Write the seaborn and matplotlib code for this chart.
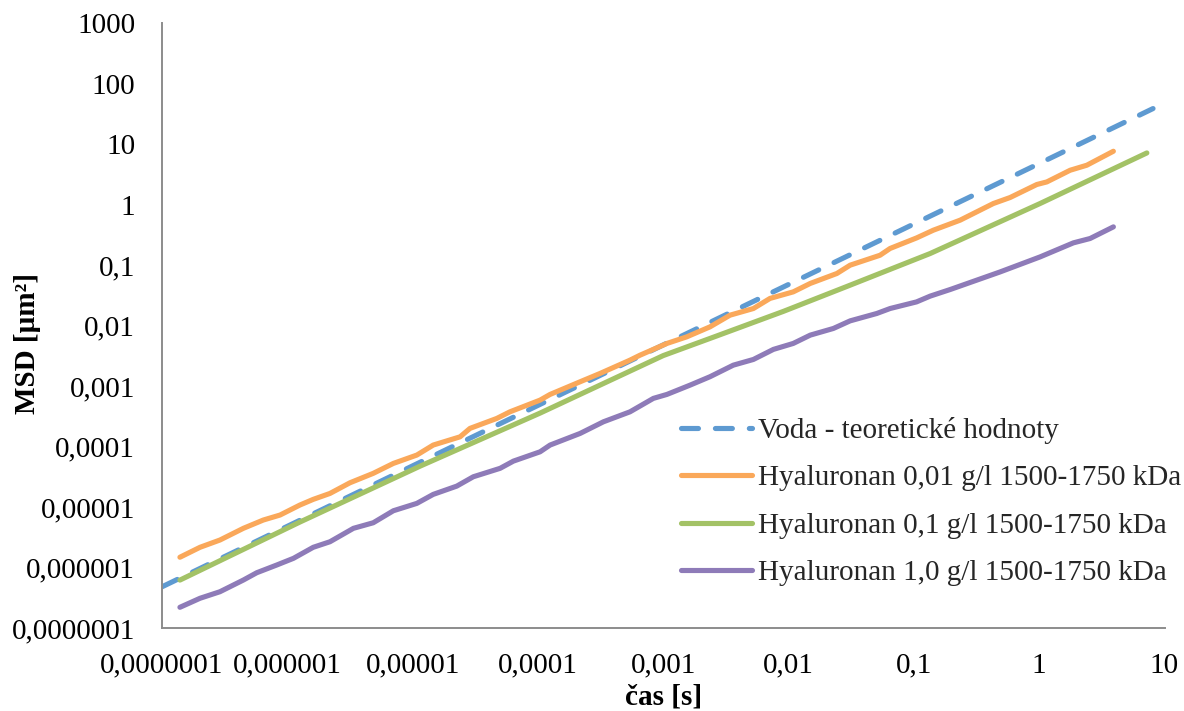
import matplotlib
matplotlib.use("Agg")
import matplotlib.pyplot as plt
import seaborn as sns
import pandas as pd
from matplotlib.ticker import FixedLocator, FixedFormatter, NullLocator

# ---------------- data ----------------
water_t = [1e-7, 1e-6, 1e-5, 1e-4, 1e-3, 1e-2, 1e-1, 1.0, 8.1]
water_msd = [4.8e-7, 4.8e-6, 4.8e-5, 4.8e-4, 4.8e-3, 4.8e-2, 0.48, 4.8, 38.9]

h001_t = [1.39e-7, 2.01e-7, 2.90e-7, 4.46e-7, 6.43e-7, 8.75e-7, 1.26e-6, 1.61e-6, 2.19e-6,
          3.16e-6, 4.85e-6, 7.02e-6, 1.08e-5, 1.46e-5, 2.39e-5, 2.87e-5, 4.69e-5, 5.98e-5,
          1.04e-4, 1.25e-4, 2.17e-4, 3.13e-4, 5.43e-4, 6.53e-4, 1.07e-3, 1.54e-3, 2.36e-3,
          3.41e-3, 5.24e-3, 7.11e-3, 1.09e-2, 1.49e-2, 2.43e-2, 3.10e-2, 5.37e-2, 6.46e-2,
          0.105, 0.143, 0.234, 0.431, 0.586, 0.957, 1.151, 1.766, 2.399, 3.908]
h001_msd = [1.48e-6, 2.16e-6, 2.85e-6, 4.45e-6, 6.10e-6, 7.38e-6, 1.08e-5, 1.34e-5, 1.68e-5,
            2.52e-5, 3.61e-5, 5.27e-5, 7.24e-5, 1.06e-4, 1.45e-4, 2.00e-4, 2.92e-4, 3.76e-4,
            5.87e-4, 7.29e-4, 1.18e-3, 1.62e-3, 2.69e-3, 3.25e-3, 5.08e-3, 6.53e-3, 9.55e-3,
            1.49e-2, 1.92e-2, 2.82e-2, 3.62e-2, 4.99e-2, 7.29e-2, 0.100, 0.146, 0.189,
            0.282, 0.379, 0.555, 1.047, 1.315, 2.158, 2.382, 3.715, 4.498, 7.656]

h01_t = [1.39e-7, 1.26e-6, 1.15e-5, 1.04e-4, 1.0e-3, 2.67e-3, 9.08e-3, 3.10e-2, 0.135, 1.02, 7.23]
h01_msd = [6.2e-7, 5.65e-6, 4.76e-5, 3.58e-4, 3.20e-3, 6.75e-3, 1.72e-2, 4.67e-2, 0.156, 1.05, 7.18]

h10_t = [1.39e-7, 2.01e-7, 2.90e-7, 4.46e-7, 5.70e-7, 8.23e-7, 1.12e-6, 1.61e-6, 2.19e-6,
         3.37e-6, 4.85e-6, 7.02e-6, 1.08e-5, 1.46e-5, 2.25e-5, 3.05e-5, 4.99e-5, 6.37e-5,
         1.04e-4, 1.25e-4, 2.17e-4, 3.33e-4, 5.43e-4, 8.34e-4, 1.07e-3, 1.64e-3, 2.36e-3,
         3.62e-3, 5.24e-3, 7.57e-3, 1.09e-2, 1.49e-2, 2.28e-2, 3.10e-2, 5.06e-2, 6.46e-2,
         0.105, 0.135, 0.195, 0.488, 1.016, 1.875, 2.547, 3.91]
h10_msd = [2.20e-7, 3.10e-7, 3.98e-7, 6.21e-7, 8.20e-7, 1.10e-6, 1.42e-6, 2.16e-6, 2.67e-6,
           4.45e-6, 5.50e-6, 8.69e-6, 1.15e-5, 1.62e-5, 2.22e-5, 3.17e-5, 4.37e-5, 5.75e-5,
           8.20e-5, 1.06e-4, 1.65e-4, 2.57e-4, 3.76e-4, 6.27e-4, 7.29e-4, 1.04e-3, 1.43e-3,
           2.22e-3, 2.76e-3, 4.05e-3, 5.08e-3, 6.97e-3, 8.99e-3, 1.20e-2, 1.59e-2, 1.92e-2,
           2.47e-2, 3.08e-2, 3.96e-2, 7.74e-2, 0.137, 0.234, 0.276, 0.430]

series_labels = ["Voda - teoretické hodnoty",
                 "Hyaluronan 0,01 g/l 1500-1750 kDa",
                 "Hyaluronan 0,1 g/l 1500-1750 kDa",
                 "Hyaluronan 1,0 g/l 1500-1750 kDa"]

x_ticks = [1e-7, 1e-6, 1e-5, 1e-4, 1e-3, 1e-2, 1e-1, 1, 10]
x_tick_labels = ["0,0000001", "0,000001", "0,00001", "0,0001", "0,001", "0,01", "0,1", "1", "10"]
y_ticks = [1e-7, 1e-6, 1e-5, 1e-4, 1e-3, 1e-2, 1e-1, 1, 10, 100, 1000]
y_tick_labels = ["0,0000001", "0,000001", "0,00001", "0,0001", "0,001", "0,01", "0,1",
                 "1", "10", "100", "1000"]

x_title = "čas [s]"
y_title = "MSD [µm²]"

# ---------------- style ----------------
sns.set_theme(style="white")
plt.rcParams["font.family"] = ["Liberation Serif", "DejaVu Serif"]
FS = 21
colors = ["#5E9AD1", "#FAA85A", "#A3C266", "#8E7BB8"]
LW = 3.7
axis_grey = "#8C8C8C"

W, H = 1184, 711
fig = plt.figure(figsize=(W / 100, H / 100), dpi=100)
x0, x1 = 162, 1164.5
y_top, y_bot = 23.3, 628
ax = fig.add_axes([x0 / W, 1 - y_bot / H, (x1 - x0) / W, (y_bot - y_top) / H])
ax.set_xscale("log")
ax.set_yscale("log")

frames = [
    pd.DataFrame({"t": water_t, "msd": water_msd}),
    pd.DataFrame({"t": h001_t, "msd": h001_msd}),
    pd.DataFrame({"t": h01_t, "msd": h01_msd}),
    pd.DataFrame({"t": h10_t, "msd": h10_msd}),
]
for i, (df, lab, col) in enumerate(zip(frames, series_labels, colors)):
    sns.lineplot(data=df, x="t", y="msd", ax=ax, color=col, linewidth=LW,
                 label=lab, sort=False, estimator=None, legend=False)
    line = ax.lines[-1]
    line.set_solid_capstyle("round")
    line.set_solid_joinstyle("round")
    if i == 0:
        line.set_linestyle((0, (3.3, 3.3)))
        line.set_dash_capstyle("round")

ax.set_xlim(1e-7, 10)
ax.set_ylim(1e-7, 1000)

ax.xaxis.set_major_locator(FixedLocator(x_ticks))
ax.xaxis.set_major_formatter(FixedFormatter(x_tick_labels))
ax.xaxis.set_minor_locator(NullLocator())
ax.yaxis.set_major_locator(FixedLocator(y_ticks))
ax.yaxis.set_major_formatter(FixedFormatter(y_tick_labels))
ax.yaxis.set_minor_locator(NullLocator())

for s in ["top", "right"]:
    ax.spines[s].set_visible(False)
for s in ["left", "bottom"]:
    ax.spines[s].set_color(axis_grey)
    ax.spines[s].set_linewidth(1.4)

ax.tick_params(axis="both", which="major", direction="out", length=5.8, width=1.4,
               color=axis_grey, labelsize=FS, labelcolor="black")
ax.tick_params(axis="y", pad=13.5)
ax.tick_params(axis="x", pad=12)
ax.grid(False)

ax.set_xlabel(x_title, fontsize=FS, fontweight="bold", color="black")
ax.xaxis.set_label_coords(0.5, (y_bot - 683) / (y_bot - y_top))
ax.set_ylabel(y_title, fontsize=FS, fontweight="bold", color="black")
ax.yaxis.set_label_coords((41 - x0) / (x1 - x0), (y_bot - 344) / (y_bot - y_top))

handles = ax.lines[:4]
leg = ax.legend(handles, series_labels, loc="upper left",
                bbox_to_anchor=(681 / W, 1 - 417 / H), bbox_transform=fig.transFigure,
                frameon=False, fontsize=FS, borderpad=0, borderaxespad=0,
                handlelength=2.45, handletextpad=0.2, labelspacing=0.72)

fig.savefig("out.png", dpi=100, facecolor="white")
